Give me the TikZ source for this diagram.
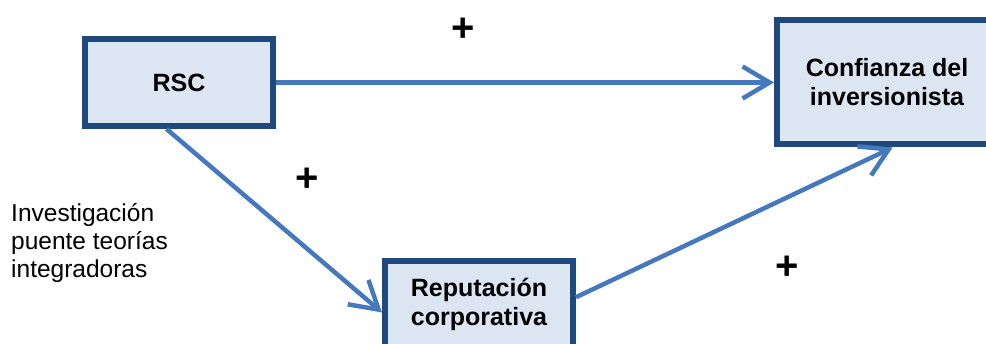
\documentclass[tikz,border=0pt]{standalone}
\usepackage{fontspec}
\setmainfont{Liberation Sans}
\usetikzlibrary{arrows.meta}

\definecolor{boxfill}{HTML}{DCE6F2}
\definecolor{boxline}{HTML}{1F497D}
\definecolor{arrowblue}{HTML}{4678BE}

\begin{document}
\begin{tikzpicture}[x=1pt,y=1pt]
  \tikzset{block/.style = {shape=rectangle,draw=boxline,fill=boxfill,line width=6pt,
      minimum width=188pt,minimum height=87pt,align=center,inner sep=2pt,
      font=\fontsize{25}{29}\selectfont\bfseries}}
  \tikzset{link/.style = {draw=arrowblue,line width=4.5pt,
      -{Straight Barb[length=27pt,width=32pt]}}}
  \tikzset{sign/.style = {font=\fontsize{40}{40}\selectfont\bfseries,inner sep=0pt}}

  \clip (0,0) rectangle (986,344);

	\node[block] (rsc) at (179,261.5) {RSC};
	\node[block,minimum width=220pt,minimum height=124pt] (conf) at (887,261.5) {Confianza del\\inversionista};
	\node[block,minimum height=86pt] (rep) at (479,40) {Reputación\\corporativa};

	\node[anchor=west,align=left,inner sep=0pt,font=\fontsize{24.5}{28}\selectfont] (note) at (11,101)
	  {Investigación\\puente teorías\\integradoras};

	\node[sign] (plusA) at (463,314) {+};
	\node[sign] (plusB) at (307,164) {+};
	\node[sign] (plusC) at (787,76) {+};

       \foreach \from/\to in {rsc.east/conf.west, rsc.255/rep.185, rep.4/conf.275}
    \path[link] (\from) -- (\to);

\end{tikzpicture}
\end{document}
